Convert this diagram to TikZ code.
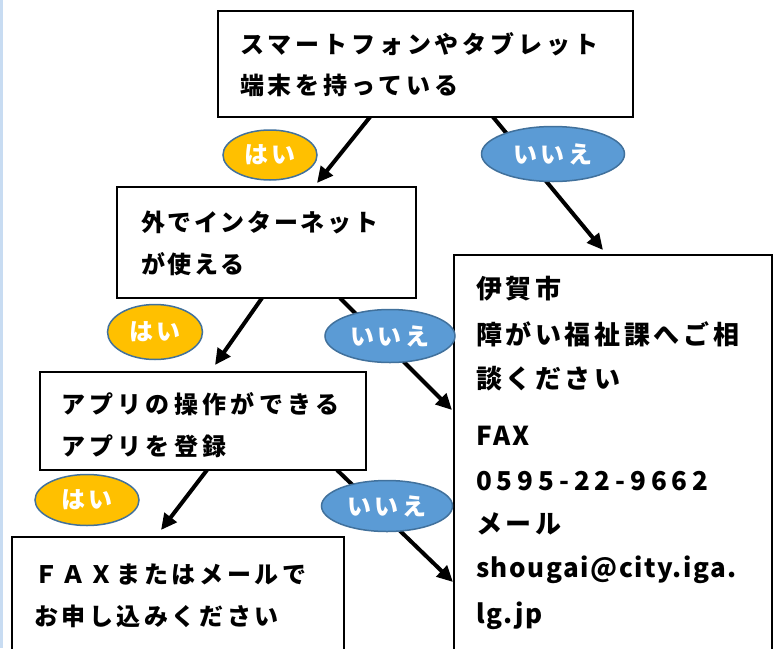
\documentclass[tikz,border=0pt]{standalone}
\usepackage{fontspec}
\usetikzlibrary{arrows.meta,shapes.geometric,calc,backgrounds}
\newfontfamily\jp{Noto Sans CJK JP}[LetterSpace=15]
\definecolor{yel}{RGB}{255,192,0}
\definecolor{blu}{RGB}{91,155,213}
\definecolor{outl}{RGB}{65,113,156}
\definecolor{edgeblue}{RGB}{200,220,242}
\tikzset{
  box/.style={draw=black, fill=white, line width=2.5pt, rectangle, inner sep=0pt, outer sep=0pt, anchor=north west},
  thinbox/.style={box, line width=1.3pt},
  txt/.style={anchor=base west, inner sep=0pt, outer sep=0pt, font=\jp\bfseries\fontsize{24pt}{24pt}\selectfont},
  bigtxt/.style={txt, font=\jp\bfseries\fontsize{26pt}{26pt}\selectfont\addfontfeatures{LetterSpace=14}},
  lattxt/.style={txt, font=\jp\bfseries\fontsize{26pt}{26pt}\selectfont\addfontfeatures{LetterSpace=6}},
  arr/.style={line width=4pt, -{Triangle[length=16pt,width=15pt]}},
  oval/.style={ellipse, draw=outl, line width=1.5pt, inner sep=0pt, outer sep=0pt, text=white, font=\jp\bfseries\fontsize{24pt}{24pt}\selectfont},
  yes/.style={oval, fill=yel},
  no/.style={oval, fill=blu}
}
\begin{document}
\begin{tikzpicture}[x=1pt,y=-1pt]
\useasboundingbox (0,0) rectangle (776,648);
\clip (0,0) rectangle (776,648);

% boxes
\node[box, minimum width=415pt, minimum height=106pt] (b1) at (218,11) {};
\node[box, minimum width=299pt, minimum height=111pt] (b2) at (117,187) {};
\node[box, minimum width=318pt, minimum height=450pt] (b3) at (454,255) {};
\node[thinbox, minimum width=326pt, minimum height=98pt] (b4) at (40,372) {};
\node[box, minimum width=332pt, minimum height=200pt] (b5) at (12,537) {};

% arrows behind boxes
\begin{pgfonlayer}{background}
\fill[white] (0,0) rectangle (776,648);
\fill[edgeblue] (0,0) rectangle (2.5,648);
\draw[arr] ($(b1.south west)+(152,0)$) -- ($(b2.north west)+(200,-4)$);
\draw[arr] ($(b1.south west)+(275,0)$) -- ($(b3.north west)+(149,-5)$);
\draw[arr] ($(b2.south west)+(145,0)$) -- ($(b4.north west)+(175,-7)$);
\draw[arr] ($(b2.south west)+(223,0)$) -- ($(b3.north west)+(-2,155)$);
\draw[arr] ($(b4.south west)+(167,0)$) -- ($(b5.north west)+(149,-7)$);
\draw[arr] ($(b4.south west)+(297,0)$) -- ($(b3.north west)+(-1,327)$);
\end{pgfonlayer}

% texts
\node[txt, font=\jp\bfseries\fontsize{24pt}{24pt}\selectfont\addfontfeatures{LetterSpace=16.5}] (t1a) at (240,53) {スマートフォンやタブレット};
\node[txt, font=\jp\bfseries\fontsize{24pt}{24pt}\selectfont\addfontfeatures{LetterSpace=16.5}] (t1b) at (240,94) {端末を持っている};
\node[txt, font=\jp\bfseries\fontsize{24pt}{24pt}\selectfont\addfontfeatures{LetterSpace=11}] (t2a) at (141,231) {外でインターネット};
\node[txt, font=\jp\bfseries\fontsize{24pt}{24pt}\selectfont\addfontfeatures{LetterSpace=11}] (t2b) at (141,273) {が使える};
\node[bigtxt] (t3a) at (476,298) {伊賀市};
\node[bigtxt] (t3b) at (476,344) {障がい福祉課へご相};
\node[bigtxt] (t3c) at (476,388) {談ください};
\node[lattxt, font=\jp\bfseries\fontsize{26pt}{26pt}\selectfont\addfontfeatures{LetterSpace=10}] (t3d) at (476,445) {FAX};
\node[lattxt, font=\jp\bfseries\fontsize{26pt}{26pt}\selectfont\addfontfeatures{LetterSpace=19}] (t3e) at (476,490) {0595-22-9662};
\node[bigtxt] (t3f) at (476,533) {メール};
\node[lattxt] (t3g) at (476,577) {shougai@city.iga.};
\node[lattxt] (t3h) at (476,623) {lg.jp};
\node[txt, font=\jp\bfseries\fontsize{24pt}{24pt}\selectfont\addfontfeatures{LetterSpace=18}] (t4a) at (61,413) {アプリの操作ができる};
\node[txt, font=\jp\bfseries\fontsize{24pt}{24pt}\selectfont\addfontfeatures{LetterSpace=18}] (t4b) at (61,455) {アプリを登録};
\node[txt] (t5a) at (34,583) {ＦＡＸまたはメールで};
\node[txt] (t5b) at (34,625) {お申し込みください};

% ovals
\node[yes, minimum width=94pt, minimum height=50pt] (e1) at (270,155) {はい};
\node[no, minimum width=143pt, minimum height=55pt] (e2) at (553,154) {いいえ};
\node[yes, minimum width=95pt, minimum height=55pt] (e3) at (155,332) {はい};
\node[no, minimum width=130pt, minimum height=53pt] (e4) at (390,336) {いいえ};
\node[yes, minimum width=104pt, minimum height=51pt] (e5) at (87,500) {はい};
\node[no, minimum width=131pt, minimum height=51pt] (e6) at (387,506) {いいえ};
\end{tikzpicture}
\end{document}
